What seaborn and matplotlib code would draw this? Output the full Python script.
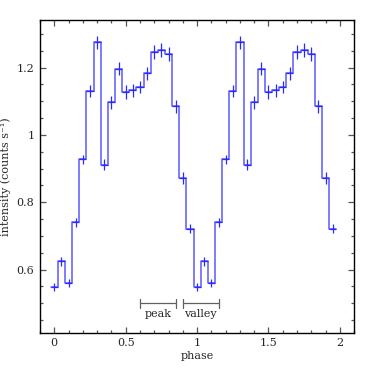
import matplotlib

matplotlib.use("Agg")

import matplotlib.pyplot as plt
import numpy as np
import seaborn as sns
from matplotlib.ticker import FuncFormatter, MultipleLocator

# one pulse cycle, 20 phase bins (plotted twice)
phase_cycle = [0.00, 0.05, 0.10, 0.15, 0.20, 0.25, 0.30, 0.35, 0.40, 0.45,
               0.50, 0.55, 0.60, 0.65, 0.70, 0.75, 0.80, 0.85, 0.90, 0.95]
rate_cycle = [0.548, 0.625, 0.560, 0.740, 0.928, 1.130, 1.275, 0.912, 1.097, 1.197,
              1.128, 1.133, 1.143, 1.183, 1.247, 1.253, 1.241, 1.085, 0.872, 0.722]
err_cycle = [0.012, 0.013, 0.012, 0.013, 0.013, 0.018, 0.020, 0.016, 0.019, 0.020,
             0.020, 0.019, 0.018, 0.019, 0.020, 0.020, 0.020, 0.019, 0.018, 0.013]
bin_width = 0.05

# phase intervals marked under the profile
intervals = {"peak": (0.60, 0.85), "valley": (0.90, 1.15)}

phase = np.concatenate([phase_cycle, np.array(phase_cycle) + 1])
rate = np.concatenate([rate_cycle, rate_cycle])
err = np.concatenate([err_cycle, err_cycle])

sns.set_theme(style="ticks")
plt.rcParams["font.family"] = ["DejaVu Serif"]
plt.rcParams["font.size"] = 8

fig = plt.figure(figsize=(3.74, 3.74), dpi=100)
ax = fig.add_axes([0.107, 0.11, 0.84, 0.836])

# histogram steps
edges = np.append(phase - bin_width / 2, phase[-1] + bin_width / 2)
sns.lineplot(
    x=edges,
    y=np.append(rate, rate[-1]),
    drawstyle="steps-post",
    estimator=None,
    sort=False,
    color="#5a5aff",
    linewidth=1.1,
    ax=ax,
)
ax.errorbar(
    phase,
    rate,
    yerr=err,
    xerr=bin_width / 2,
    fmt="none",
    ecolor="#2a2aff",
    elinewidth=0.9,
    capsize=0,
)

# peak / valley brackets
for name, (lo, hi) in intervals.items():
    ax.plot([lo, hi], [0.50, 0.50], color="#606060", lw=0.9)
    for xe in (lo, hi):
        ax.plot([xe, xe], [0.487, 0.513], color="#606060", lw=0.9)
    ax.text((lo + hi) / 2, 0.483, name, ha="center", va="top", fontsize=8)

ax.set_xlim(-0.1, 2.1)
ax.set_ylim(0.412, 1.341)
ax.xaxis.set_major_locator(MultipleLocator(0.5))
ax.xaxis.set_minor_locator(MultipleLocator(0.1))
ax.yaxis.set_major_locator(MultipleLocator(0.2))
ax.yaxis.set_minor_locator(MultipleLocator(0.05))
fmt = FuncFormatter(lambda v, _: f"{v:g}")
ax.xaxis.set_major_formatter(fmt)
ax.yaxis.set_major_formatter(fmt)
ax.tick_params(which="both", direction="in", top=True, right=True,
               color="#555555", width=0.9, labelsize=8, pad=4)
ax.tick_params(which="major", length=4.5)
ax.tick_params(which="minor", length=2.2)
for s in ax.spines.values():
    s.set_color("black")
    s.set_linewidth(1.0)

ax.set_xlabel("phase", fontsize=8, labelpad=2)
ax.set_ylabel("intensity (counts s⁻¹)", fontsize=8, labelpad=4)

fig.savefig("out.png", dpi=100)
